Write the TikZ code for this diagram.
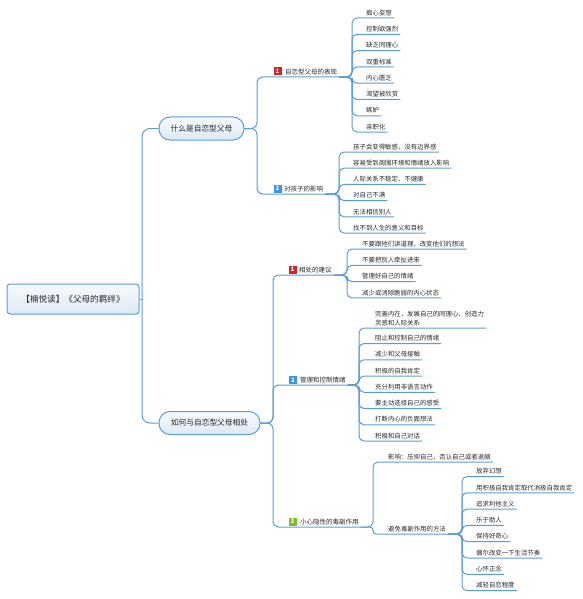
\documentclass[tikz,border=0pt]{standalone}
\usepackage{fontspec}
\setmainfont{Noto Sans CJK SC}
\definecolor{lineblue}{RGB}{92,156,214}
\definecolor{txt}{RGB}{40,40,40}
\definecolor{bfillA}{RGB}{247,250,253}
\definecolor{bfillB}{RGB}{221,233,246}
\definecolor{bred}{RGB}{214,36,40}
\definecolor{bblue}{RGB}{62,146,232}
\definecolor{bgreen}{RGB}{122,190,40}
\tikzset{
  conn/.style={draw=lineblue, line width=1pt, rounded corners=5pt},
  leaf/.style={anchor=south west, inner xsep=2pt, inner ysep=0pt, text depth=2.6pt, font=\fontsize{6.4}{9}\selectfont, text=txt},
  sub/.style={leaf, font=\fontsize{6.5}{9}\selectfont},
  topbox/.style={draw=lineblue, line width=1pt, rounded corners=11pt, top color=bfillA, bottom color=bfillB, minimum height=23pt, inner xsep=0pt, font=\fontsize{7.7}{9}\selectfont, text=txt},
  badge/.style={fill=#1, minimum size=8pt, inner sep=0pt, text=white, font=\fontsize{6}{6}\selectfont\bfseries},
}
\begin{document}
\begin{tikzpicture}[x=1pt,y=-1pt]
\useasboundingbox (0,0) rectangle (582,599);
% root and main topics
\node[draw=lineblue, line width=1pt, rounded corners=3pt, top color=bfillA, bottom color=bfillB, minimum width=132pt, minimum height=30pt, font=\fontsize{8.6}{10}\selectfont, text=txt] (root) at (73,299) {【楠悦读】《父母的羁绊》};
\node[topbox, minimum width=85pt] (A) at (201.5,128.5) {什么是自恋型父母};
\node[topbox, minimum width=101pt] (B) at (209.5,423) {如何与自恋型父母相处};
\coordinate (rj) at (142,299);
\draw[conn] (root.east) -- (rj);
\draw[conn, rounded corners=8pt] (rj) |- (A.west);
\draw[conn, rounded corners=8pt] (rj) |- (B.west);
% subtopics of A
\node[badge=bred] (bA1) at (277.5,71.5) {1};
\node[sub] (A1) at (283,77) {自恋型父母的表现};
\node[badge=bblue] (bA2) at (277.5,188.5) {2};
\node[sub] (A2) at (282,194) {对孩子的影响};
\draw[conn, rounded corners=6pt] (A.east) -- (257,128.5) |- (A1.south east);
\draw[conn, rounded corners=6pt] (A.east) -- (257,128.5) |- (A2.south east);
% leaves of A1
\foreach [count=\i from 0] \t in {痴心妄想,控制欲强烈,缺乏同理心,双重标准,内心匮乏,渴望被欣赏,嫉妒,亲职化} {
  \node[leaf] (a1\i) at (364,18+16.3*\i) {\t};
  \draw[conn] (A1.south east) -- (352,77) |- (a1\i.south east);
}
% leaves of A2
\foreach [count=\i from 0] \t in {孩子会变得敏感，没有边界感,容易受到周围环境和情绪放入影响,人际关系不稳定、不健康,对自己不满,无法相信别人,找不到人生的意义和目标} {
  \node[leaf] (a2\i) at (351,152+16.2*\i) {\t};
  \draw[conn] (A2.south east) -- (339,194) |- (a2\i.south east);
}
% subtopics of B
\node[badge=bred] (bB1) at (292.5,269.5) {1};
\node[sub] (B1) at (297,275) {相处的建议};
\node[badge=bblue] (bB2) at (293,380) {2};
\node[sub] (B2) at (298,385) {管理和控制情绪};
\node[badge=bgreen] (bB3) at (292.5,521.5) {3};
\node[sub] (B3) at (298,527) {小心隐性的毒副作用};
\foreach \s in {B1,B2,B3} {
  \draw[conn, rounded corners=6pt] (B.east) -- (273,423) |- (\s.south east);
}
% leaves of B1
\foreach [count=\i from 0] \t in {不要跟他们讲道理，改变他们的想法,不要把别人牵扯进来,管理好自己的情绪,减少或消除脆弱的内心状态} {
  \node[leaf] (b1\i) at (360,249+16.3*\i) {\t};
  \draw[conn] (B1.south east) -- (347,275) |- (b1\i.south east);
}
% leaves of B2
\node[leaf, align=left] (b2x) at (373,328) {完善内在，发展自己的同理心、创造力\\灵感和人际关系};
\draw[conn] (B2.south east) -- (359,385) |- (b2x.south east);
\foreach [count=\i from 0] \t in {阻止和控制自己的情绪,减少和父母接触,积极的自我肯定,充分利用非语言动作,要主动选择自己的感受,打断内心的负面想法,积极和自己对话} {
  \node[leaf] (b2\i) at (373,343.5+16.25*\i) {\t};
  \draw[conn] (B2.south east) -- (359,385) |- (b2\i.south east);
}
% children of B3
\node[leaf] (b31) at (386,462) {影响：压抑自己，否认自己或者退缩};
\node[leaf] (b32) at (386,534) {避免毒副作用的方法};
\draw[conn] (B3.south east) -- (373,527) |- (b31.south east);
\draw[conn, rounded corners=3pt] (B3.south east) -- (373,527) |- (b32.south east);
% leaves of b32
\foreach [count=\i from 0] \t in {放弃幻想,用积极自我肯定取代消极自我肯定,追求利他主义,乐于助人,保持好奇心,偶尔改变一下生活节奏,心怀正念,减轻自恋程度} {
  \node[leaf] (c\i) at (474,476.5+16.3*\i) {\t};
  \draw[conn] (b32.south east) -- (462,534) |- (c\i.south east);
}
\end{tikzpicture}
\end{document}
